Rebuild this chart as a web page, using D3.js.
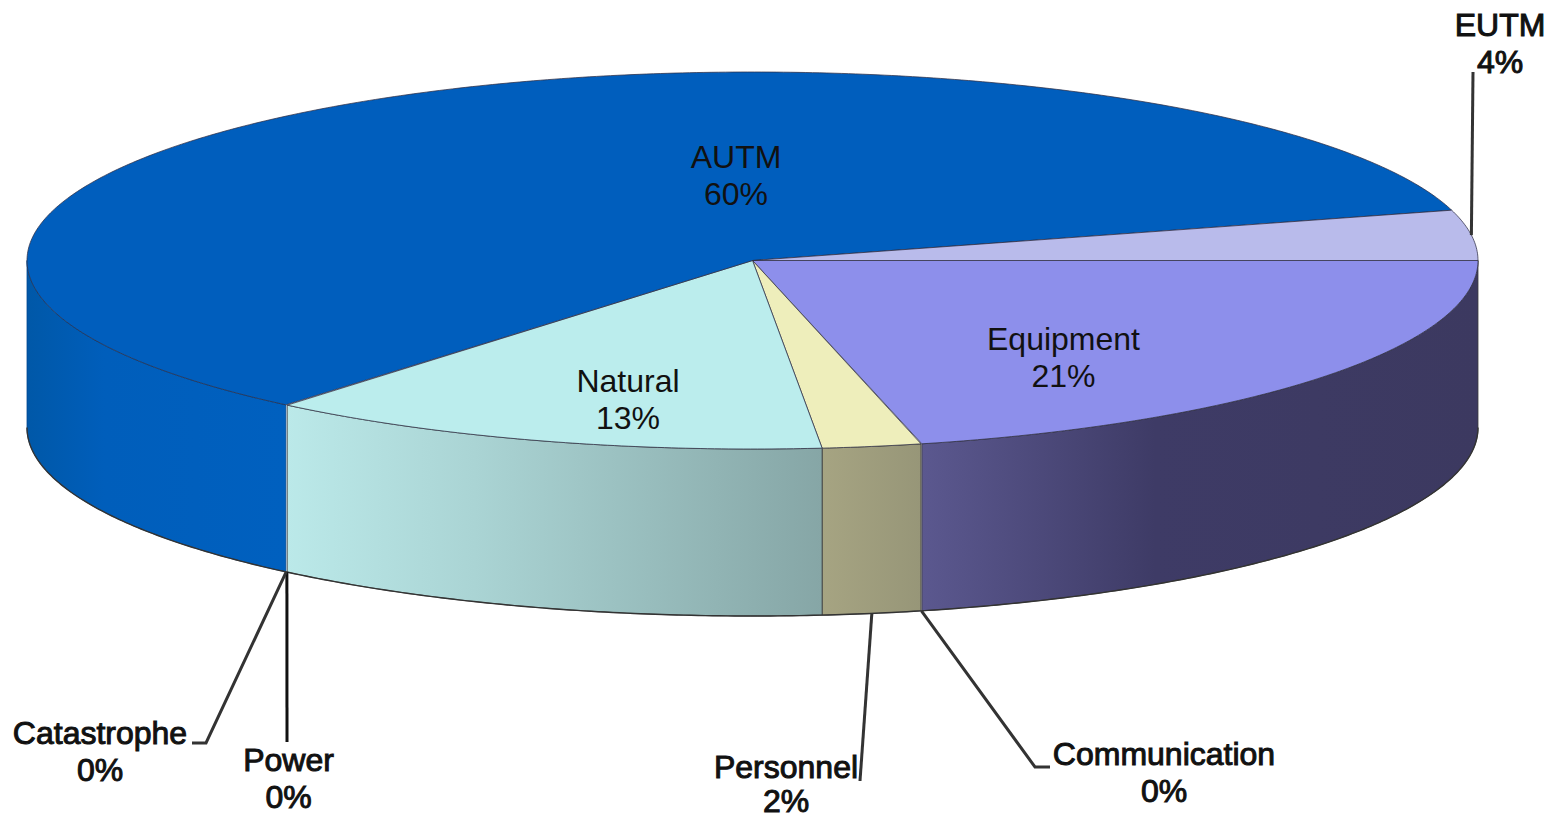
<!DOCTYPE html>
<html>
<head>
<meta charset="utf-8">
<script src="https://cdn.jsdelivr.net/npm/d3@7/dist/d3.min.js"></script>
<style>
html,body{margin:0;padding:0;background:#fff;overflow:hidden}
svg{display:block}
text{font-family:"Liberation Sans",Arial,sans-serif;font-size:32px;fill:#111;text-anchor:middle}
.outer{stroke:#111;stroke-width:1px}
</style>
</head>
<body>
<svg id="chart" width="1558" height="819"></svg>
<script>
// Data, in drawing order (clockwise from the east point of the pie)
const categories = ["Equipment","Communication","Personnel","Natural","Power","Catastrophe","AUTM","EUTM"];
const values     = [21.25,0.02,2.2,12.61,0.02,0.02,59.58,4.3];
const percentLabels = ["21%","0%","2%","13%","0%","0%","60%","4%"];

// Styles
const topColors = ["#8D8FEB","#A0A0A0","#EEEEBB","#BBEDED","#A0A0A0","#A0A0A0","#005EBD","#B9BBEB"];
const sideStops = [
  [[0,"#5B588F"],[.42,"#3E3B66"],[1,"#3C3960"]],
  [[0,"#888"],[1,"#888"]],
  [[0,"#A6A482"],[1,"#979678"]],
  [[0,"#BBE9E9"],[.35,"#AAD4D4"],[1,"#86A6A6"]],
  [[0,"#888"],[1,"#888"]],
  [[0,"#888"],[1,"#888"]],
  [[0,"#0058A8"],[.3,"#005EBB"],[1,"#0060BF"]],
  [[0,"#888"],[1,"#888"]]
];

// Layout
const cx = 752.5, cy = 260.5, rx = 725.5, ry = 188.5, depth = 167;
const lineGap = 37;
// label: centre x, first baseline y; outside = leader-line label
const labelLayout = {
  "Equipment":     {x:1063.5,y:350},
  "Natural":       {x:628,y:392},
  "AUTM":          {x:736,y:168},
  "EUTM":          {x:1500,y:36,outer:true,rim:"top",leader:[[1473,72]]},
  "Personnel":     {x:786,y:778,gap:34,outer:true,leader:[[860,781]]},
  "Communication": {x:1164,y:765,outer:true,leader:[[1035,767],[1050,767]]},
  "Power":         {x:288.5,y:771,outer:true,leader:[[287,742]]},
  "Catastrophe":   {x:100,y:744,outer:true,leader:[[206,743],[192,743]]}
};

const x = d3.scaleLinear().domain([-1,1]).range([cx-rx,cx+rx]);
const y = d3.scaleLinear().domain([-1,1]).range([cy-ry,cy+ry]);
const px = a => x(Math.cos(a));
const py = a => y(Math.sin(a));

const pie = d3.pie().sort(null).startAngle(0).endAngle(2*Math.PI);
const arcs = pie(values).map((d,i)=>({...d,name:categories[i],label:percentLabels[i],i}));

const svg = d3.select("#chart");
const defs = svg.append("defs");

const samples = (a0,a1) => {
  const n = Math.max(2,Math.ceil((a1-a0)/0.01));
  return d3.range(n+1).map(k=>a0+(a1-a0)*k/n);
};
const rimLine = d3.line().x(px).y(py);

// Side walls (only the front half of the rim is visible)
const front = arcs
  .map(d=>({...d,a0:Math.max(d.startAngle,0),a1:Math.min(d.endAngle,Math.PI)}))
  .filter(d=>d.a1>d.a0 && d.value>0.5);

front.forEach(d=>{
  const g = defs.append("linearGradient").attr("id","side"+d.i)
    .attr("gradientUnits","userSpaceOnUse")
    .attr("x1",d3.min([px(d.a0),px(d.a1)])).attr("x2",d3.max([px(d.a0),px(d.a1)]))
    .attr("y1",0).attr("y2",0);
  // stops run left to right on screen
  sideStops[d.i].forEach(s=>g.append("stop").attr("offset",s[0]).attr("stop-color",s[1]));
});

const sidePath = d=>{
  const pts = samples(d.a0,d.a1);
  const t = pts.map(a=>[px(a),py(a)]);
  const b = pts.slice().reverse().map(a=>[px(a),py(a)+depth]);
  return d3.line()(t.concat(b))+"Z";
};
svg.append("g").selectAll("path").data(front).join("path")
  .attr("d",sidePath)
  .attr("fill",d=>`url(#side${d.i})`)
  .attr("stroke",d=>d.name==="AUTM"?"#00478f":"#3a3a3a")
  .attr("stroke-width",.8);

// Bottom rim, darker like the reference's edge
svg.append("path")
  .attr("d",d3.line()(samples(0,Math.PI).map(a=>[px(a),py(a)+depth])))
  .attr("fill","none").attr("stroke","#333").attr("stroke-width",1.4);

// Top faces
const topPath = d=>{
  const pts = samples(d.startAngle,d.endAngle);
  return `M${x(0)},${y(0)}L`+rimLine(pts).slice(1)+"Z";
};
svg.append("g").selectAll("path").data(arcs.filter(d=>d.value>0.5)).join("path")
  .attr("d",topPath)
  .attr("fill",d=>topColors[d.i])
  .attr("stroke","#2f2f45")
  .attr("stroke-opacity",.75)
  .attr("stroke-width",1);

// Leader lines
const outer = arcs.filter(d=>labelLayout[d.name].outer);
svg.append("g").selectAll("path").data(outer).join("path")
  .attr("d",d=>{
    const L = labelLayout[d.name];
    const m = (d.startAngle+d.endAngle)/2;
    const start = L.rim==="top" ? [px(m),py(m)] : [px(m),py(m)+depth];
    return d3.line()([start,...L.leader]);
  })
  .attr("fill","none").attr("stroke",d=>d.name==="Power"?"#111":"#333")
  .attr("stroke-width",3);

// Labels
const labels = svg.append("g").selectAll("text").data(arcs).join("text")
  .attr("class",d=>labelLayout[d.name].outer?"outer":null)
  .attr("x",d=>labelLayout[d.name].x)
  .attr("y",d=>labelLayout[d.name].y);
labels.append("tspan").text(d=>d.name);
labels.append("tspan")
  .attr("x",d=>labelLayout[d.name].x)
  .attr("dy",d=>labelLayout[d.name].gap||lineGap)
  .text(d=>d.label);
</script>
</body>
</html>
